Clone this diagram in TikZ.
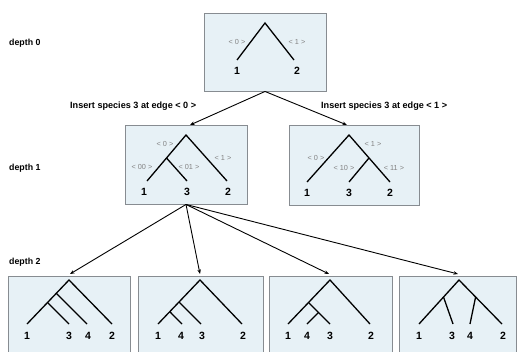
\documentclass[tikz,border=0pt]{standalone}
\usepackage{fontspec}
\setmainfont{Liberation Sans}
\usetikzlibrary{arrows.meta}
\definecolor{boxfill}{RGB}{231,241,246}
\definecolor{boxline}{RGB}{135,140,145}
\definecolor{lblgray}{RGB}{130,130,130}
\begin{document}
\begin{tikzpicture}[x=1pt,y=-1pt,
  treebox/.style={draw=boxline,fill=boxfill,line width=0.9pt,inner sep=0pt},
  br/.style={line width=1.3pt,black},
  leaf/.style={font=\fontsize{10.5}{10.5}\selectfont\bfseries,inner sep=0pt},
  elab/.style={font=\fontsize{7.3}{7.3}\selectfont,text=lblgray,inner sep=0pt},
  depthlab/.style={font=\fontsize{8.8}{8.8}\selectfont\bfseries,anchor=west,inner sep=0pt},
  inslab/.style={font=\fontsize{9.1}{9.1}\selectfont\bfseries,inner sep=0pt},
  arr/.style={line width=0.9pt,-{Stealth[length=4.5pt,width=3.5pt]}}]
\useasboundingbox (0,0) rectangle (519,351);
\clip (0,0) rectangle (519,351);
\fill[white] (0,0) rectangle (519,351);
% boxes
\node[treebox,minimum width=122pt,minimum height=78pt] (b0) at (265,52) {};
\node[treebox,minimum width=122pt,minimum height=79pt] (b1) at (186,164.5) {};
\node[treebox,minimum width=130pt,minimum height=80pt] (b2) at (354,165) {};
\node[treebox,minimum width=122pt,minimum height=84pt] (c1) at (69,318) {};
\node[treebox,minimum width=125pt,minimum height=84pt] (c2) at (200.5,318) {};
\node[treebox,minimum width=123pt,minimum height=84pt] (c3) at (330.5,318) {};
\node[treebox,minimum width=117pt,minimum height=84pt] (c4) at (457.5,318) {};
% depth labels
\node[depthlab] (d0) at (9,43) {depth 0};
\node[depthlab] (d1) at (9,168) {depth 1};
\node[depthlab] (d2) at (9,262) {depth 2};
% tree depth 0
\coordinate (t0r) at (265,23);
\coordinate (t0a) at (237,60);
\coordinate (t0b) at (294,60);
\draw[br] (t0a) -- (t0r) -- (t0b);
\node[leaf] (t0l1) at (237,71) {1};
\node[leaf] (t0l2) at (297,71) {2};
\node[elab] (t0e0) at (237,42) {< 0 >};
\node[elab] (t0e1) at (297,42) {< 1 >};
% tree depth 1 left
\coordinate (t1r) at (186,135);
\coordinate (t1n) at (166.5,158);
\coordinate (t1a) at (147,181);
\coordinate (t1c) at (187,181);
\coordinate (t1b) at (227,181);
\draw[br] (t1a) -- (t1r) -- (t1b);
\draw[br] (t1n) -- (t1c);
\node[leaf] (t1l1) at (144,192) {1};
\node[leaf] (t1l3) at (187,192) {3};
\node[leaf] (t1l2) at (228,192) {2};
\node[elab] (t1e0) at (165,144) {< 0 >};
\node[elab] (t1e00) at (142,167) {< 00 >};
\node[elab] (t1e01) at (189,167) {< 01 >};
\node[elab] (t1e1) at (223,158) {< 1 >};
% tree depth 1 right
\coordinate (t2r) at (349,135);
\coordinate (t2n) at (369,158);
\coordinate (t2a) at (307,182);
\coordinate (t2c) at (349,182);
\coordinate (t2b) at (390,182);
\draw[br] (t2a) -- (t2r) -- (t2b);
\draw[br] (t2n) -- (t2c);
\node[leaf] (t2l1) at (307,193) {1};
\node[leaf] (t2l3) at (349,193) {3};
\node[leaf] (t2l2) at (390,193) {2};
\node[elab] (t2e0) at (316,158) {< 0 >};
\node[elab] (t2e1) at (373,144) {< 1 >};
\node[elab] (t2e10) at (344,168) {< 10 >};
\node[elab] (t2e11) at (394,168) {< 11 >};
% depth 2, box 1
\coordinate (u1r) at (69,280);
\coordinate (u1a) at (27,324);
\coordinate (u1b) at (112,324);
\coordinate (u1n4) at (56.3,293.3);
\coordinate (u1n3) at (47.5,302.5);
\coordinate (u1l4) at (87,324);
\coordinate (u1l3) at (69,324);
\draw[br] (u1a) -- (u1r) -- (u1b);
\draw[br] (u1n4) -- (u1l4);
\draw[br] (u1n3) -- (u1l3);
\node[leaf] (u1t1) at (27,336) {1};
\node[leaf] (u1t3) at (69,336) {3};
\node[leaf] (u1t4) at (88,336) {4};
\node[leaf] (u1t2) at (112,336) {2};
% depth 2, box 2
\coordinate (u2r) at (200,280);
\coordinate (u2a) at (158,324);
\coordinate (u2b) at (242,324);
\coordinate (u2n3) at (179,302);
\coordinate (u2n4) at (169.8,311.7);
\coordinate (u2l3) at (201,324);
\coordinate (u2l4) at (182,324);
\draw[br] (u2a) -- (u2r) -- (u2b);
\draw[br] (u2n3) -- (u2l3);
\draw[br] (u2n4) -- (u2l4);
\node[leaf] (u2t1) at (158,336) {1};
\node[leaf] (u2t4) at (181,336) {4};
\node[leaf] (u2t3) at (202,336) {3};
\node[leaf] (u2t2) at (243,336) {2};
% depth 2, box 3
\coordinate (u3r) at (330,280);
\coordinate (u3a) at (288,324);
\coordinate (u3b) at (370,324);
\coordinate (u3n) at (308.5,302.5);
\coordinate (u3m) at (318.5,312.5);
\coordinate (u3l3) at (330,324);
\coordinate (u3l4) at (307,324);
\draw[br] (u3a) -- (u3r) -- (u3b);
\draw[br] (u3n) -- (u3l3);
\draw[br] (u3m) -- (u3l4);
\node[leaf] (u3t1) at (288,336) {1};
\node[leaf] (u3t4) at (307,336) {4};
\node[leaf] (u3t3) at (330,336) {3};
\node[leaf] (u3t2) at (371,336) {2};
% depth 2, box 4
\coordinate (u4r) at (459,280);
\coordinate (u4a) at (419,324);
\coordinate (u4b) at (502,324);
\coordinate (u4n) at (443.5,297);
\coordinate (u4m) at (475.6,297);
\coordinate (u4l3) at (453,324);
\coordinate (u4l4) at (470,324);
\draw[br] (u4a) -- (u4r) -- (u4b);
\draw[br] (u4n) -- (u4l3);
\draw[br] (u4m) -- (u4l4);
\node[leaf] (u4t1) at (419,336) {1};
\node[leaf] (u4t3) at (452,336) {3};
\node[leaf] (u4t4) at (470,336) {4};
\node[leaf] (u4t2) at (503,336) {2};
% arrows
\coordinate (a1end) at (190,125);
\coordinate (a2end) at (347,125);
\draw[arr] (b0.south) -- (a1end);
\draw[arr] (b0.south) -- (a2end);
\coordinate (c1end) at (70,274);
\coordinate (c2end) at (200,274);
\coordinate (c3end) at (329,274);
\coordinate (c4end) at (458,274);
\draw[arr] (b1.south) -- (c1end);
\draw[arr] (b1.south) -- (c2end);
\draw[arr] (b1.south) -- (c3end);
\draw[arr] (b1.south) -- (c4end);
% insertion labels
\node[inslab,anchor=west] (ins0) at (70,106) {Insert species 3 at edge < 0 >};
\node[inslab,anchor=west] (ins1) at (321,106) {Insert species 3 at edge < 1 >};
\end{tikzpicture}
\end{document}
